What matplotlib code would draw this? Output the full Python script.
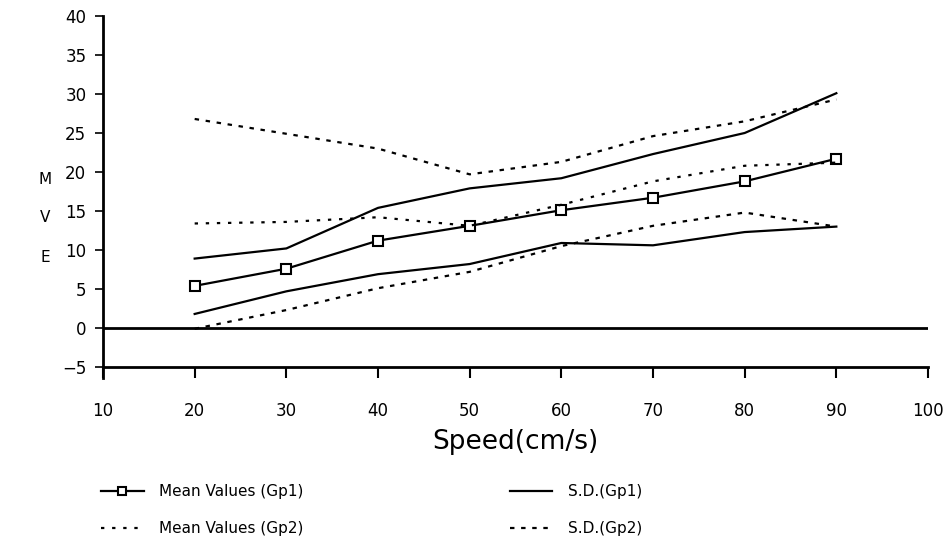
import matplotlib
matplotlib.use("Agg")
import matplotlib.pyplot as plt

speed = [20, 30, 40, 50, 60, 70, 80, 90]

mean_gp1 = [5.4, 7.6, 11.2, 13.1, 15.1, 16.7, 18.8, 21.7]
sd_gp1_hi = [8.9, 10.2, 15.4, 17.9, 19.2, 22.3, 25.0, 30.1]
sd_gp1_lo = [1.8, 4.7, 6.9, 8.2, 10.9, 10.6, 12.3, 13.0]

mean_gp2 = [13.4, 13.6, 14.2, 13.1, 15.8, 18.8, 20.8, 21.2]
sd_gp2_hi = [26.8, 24.9, 23.0, 19.7, 21.3, 24.6, 26.5, 29.3]
sd_gp2_lo = [-0.1, 2.3, 5.1, 7.2, 10.5, 13.1, 14.8, 13.0]

xticks = [10, 20, 30, 40, 50, 60, 70, 80, 90, 100]
yticks = [-5, 0, 5, 10, 15, 20, 25, 30, 35, 40]

plt.rcParams['font.family'] = 'DejaVu Sans'

fig = plt.figure(figsize=(9.51, 5.46), dpi=100)
ax = fig.add_axes([103 / 951, 1 - 367 / 546, (928 - 103) / 951, (367 - 16) / 546])

lw = 1.6
h_m1, = ax.plot(speed, mean_gp1, color='black', lw=lw, marker='s', ms=7,
                mfc='white', mec='black', mew=1.5)
h_m2, = ax.plot(speed, mean_gp2, color='black', lw=lw, linestyle=(0, (1.5, 3.5)))
h_s1, = ax.plot(speed, sd_gp1_hi, color='black', lw=lw)
ax.plot(speed, sd_gp1_lo, color='black', lw=lw)
h_s2, = ax.plot(speed, sd_gp2_hi, color='black', lw=lw, linestyle=(0, (2, 3)))
ax.plot(speed, sd_gp2_lo, color='black', lw=lw, linestyle=(0, (2, 3)))

ax.axhline(0, color='black', lw=2)

ax.set_xlim(10, 100)
ax.set_ylim(-5, 40)
ax.set_xticks(xticks)
ax.set_yticks(yticks)
ax.set_yticklabels([str(v).replace('-', '\u2212') for v in yticks])

for s in ['top', 'right']:
    ax.spines[s].set_visible(False)
ax.spines['left'].set_linewidth(2)
ax.spines['bottom'].set_linewidth(2)
ax.plot([0, 0], [-0.03, 0], transform=ax.transAxes, color='black', lw=2, clip_on=False)

ax.tick_params(axis='x', direction='out', length=8, width=1.5, pad=17, labelsize=12)
ax.tick_params(axis='y', direction='out', length=6, width=1.2, pad=6, labelsize=12)

ax.set_xlabel('Speed(cm/s)', fontsize=19, labelpad=7)

for txt, yp in [('M', 180), ('V', 218), ('E', 257)]:
    fig.text(45 / 951, 1 - yp / 546, txt, fontsize=11, ha='center', va='center')

fig.legend([h_m1, h_m2, h_s1, h_s2],
           ['Mean Values (Gp1)', 'Mean Values (Gp2)', 'S.D.(Gp1)', 'S.D.(Gp2)'],
           ncol=2, loc='upper left', bbox_to_anchor=(101 / 951, 1 - 484 / 546),
           frameon=False, fontsize=11, handlelength=2.8, handletextpad=1.0,
           columnspacing=13.5, labelspacing=1.45, borderpad=0, borderaxespad=0,
           markerscale=0.8)

fig.savefig('out.png', dpi=100)
